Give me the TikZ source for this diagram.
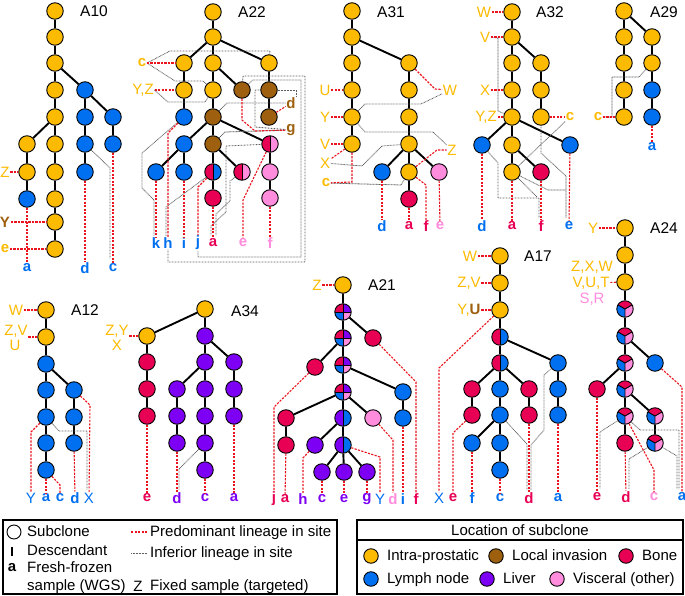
\documentclass[tikz,border=0pt]{standalone}
\usepackage{fontspec}
\setmainfont{Liberation Sans}
\definecolor{cIP}{RGB}{252,187,0}
\definecolor{cLI}{RGB}{158,96,14}
\definecolor{cBO}{RGB}{232,0,84}
\definecolor{cLY}{RGB}{0,112,240}
\definecolor{cLV}{RGB}{125,0,245}
\definecolor{cVI}{RGB}{255,140,220}
\definecolor{cRD}{RGB}{235,20,30}
\definecolor{cGR}{RGB}{95,95,95}
\tikzset{
  cn/.style={circle,draw=black,line width=0.9pt,minimum size=16.5pt,inner sep=0pt},
  ip/.style={cn,fill=cIP},
  li/.style={cn,fill=cLI},
  bo/.style={cn,fill=cBO},
  ly/.style={cn,fill=cLY},
  lv/.style={cn,fill=cLV},
  vi/.style={cn,fill=cVI},
  hf/.style 2 args={cn,path picture={
     \fill[#1] (path picture bounding box.north west) rectangle (path picture bounding box.south);
     \fill[#2] (path picture bounding box.north) rectangle (path picture bounding box.south east);
     \draw[line width=0.9pt] (path picture bounding box.north) -- (path picture bounding box.south);}},
  qd/.style={cn,path picture={
     \fill[cBO] (path picture bounding box.north west) rectangle (path picture bounding box.center);
     \fill[cLV] (path picture bounding box.north) rectangle (path picture bounding box.east);
     \fill[cLY] (path picture bounding box.west) rectangle (path picture bounding box.south);
     \fill[cVI] (path picture bounding box.center) rectangle (path picture bounding box.south east);
     \draw[line width=0.9pt] (path picture bounding box.north) -- (path picture bounding box.south)
        (path picture bounding box.west) -- (path picture bounding box.east);}},
  tr/.style={cn,path picture={
     \fill[cBO] (path picture bounding box.center) -- ++(-17.3pt,10pt) -- ++(0pt,20pt) -- ++(34.6pt,0pt) -- ++(0pt,-20pt) -- cycle;
     \fill[cLY] (path picture bounding box.center) -- ++(-17.3pt,10pt) -- ++(0pt,-30pt) -- ++(17.3pt,0pt) -- cycle;
     \fill[cVI] (path picture bounding box.center) -- ++(17.3pt,10pt) -- ++(0pt,-30pt) -- ++(-17.3pt,0pt) -- cycle;
     \draw[line width=0.9pt] (path picture bounding box.center) -- ++(-17.3pt,10pt)
        (path picture bounding box.center) -- ++(17.3pt,10pt)
        (path picture bounding box.center) -- ++(0pt,-20pt);}},
  ed/.style={line width=1.9pt},
  pr/.style={draw=cRD,line width=1.1pt,dash pattern=on 2.2pt off 1.3pt},
  inf/.style={draw=cGR,line width=0.8pt,dash pattern=on 0.8pt off 0.7pt},
  lb/.style={inner sep=0.6pt,font=\fontsize{15}{15}\selectfont},
  lbb/.style={inner sep=0.6pt,font=\fontsize{15}{15}\selectfont\bfseries},
  ttl/.style={inner sep=0pt,font=\fontsize{15.5}{16}\selectfont},
  lg/.style={inner sep=0pt,anchor=west,text height=10.5pt,text depth=2.5pt,font=\fontsize{15}{16}\selectfont},
}
\begin{document}
\begin{tikzpicture}[x=1pt,y=-1pt]
\useasboundingbox (0,0) rectangle (685,596);
\fill[white] (0,0) rectangle (685,596);

% ================= A10
\node[ip] (a10n1) at (55,11) {};
\node[ip] (a10n2) at (55,37) {};
\node[ip] (a10n3) at (55,63) {};
\node[ip] (a10n4) at (55,90) {};
\node[ip] (a10n5) at (55,117) {};
\node[ip] (a10l1) at (27,144) {};
\node[ip] (a10l2) at (27,172) {};
\node[ly] (a10l3) at (27,199) {};
\node[ip] (a10m1) at (55,144) {};
\node[ip] (a10m2) at (55,172) {};
\node[ip] (a10m3) at (55,199) {};
\node[ip] (a10m4) at (55,222) {};
\node[ip] (a10m5) at (55,249) {};
\node[ly] (a10b1) at (85,90) {};
\node[ly] (a10b2) at (85,117) {};
\node[ly] (a10b3) at (85,144) {};
\node[ly] (a10b4) at (85,172) {};
\node[ly] (a10c1) at (113,117) {};
\node[ly] (a10c2) at (113,144) {};
\draw[ed] (a10n1)--(a10n2)--(a10n3)--(a10n4)--(a10n5)--(a10m1)--(a10m2)--(a10m3)--(a10m4)--(a10m5);
\draw[ed] (a10n5)--(a10l1)--(a10l2)--(a10l3);
\draw[ed] (a10n3)--(a10b1)--(a10b2)--(a10b3)--(a10b4);
\draw[ed] (a10b1)--(a10c1)--(a10c2);
\node[ttl] (a10t) at (94,11) {A10};
\node[lb,text=cIP] (a10Z) at (5,172) {Z};
\node[lbb,text=cLI] (a10Y) at (5,222) {Y};
\node[lbb,text=cIP] (a10e) at (5,249) {e};
\node[lbb,text=cLY] (a10a) at (27,268) {a};
\node[lbb,text=cLY] (a10d) at (85,268) {d};
\node[lbb,text=cLY] (a10c) at (113,268) {c};
\draw[pr] (a10Z)--(a10l2);
\draw[pr] (a10Y)--(a10m4);
\draw[pr] (a10e)--(a10m5);
\draw[pr] (a10l3)--(a10a);
\draw[pr] (a10b4)--(a10d);
\draw[pr] (a10c2)--(a10c);
\draw[inf] (a10b3)--(110,168)--(110,259);

% ================= A22
\node[ip] (a22n1) at (213,12) {};
\node[ip] (a22n2) at (213,37) {};
\node[ip] (a22c3) at (184,63) {};
\node[ip] (a22m3) at (213,63) {};
\node[ip] (a22r3) at (269,63) {};
\node[ip] (a22yz) at (184,90) {};
\node[ip] (a22m4) at (213,90) {};
\node[li] (a22b4) at (242,90) {};
\node[li] (a22r4) at (269,90) {};
\node[ly] (a22l5) at (184,117) {};
\node[li] (a22m5) at (213,117) {};
\node[li] (a22r5) at (269,117) {};
\node[ly] (a22l6) at (184,144) {};
\node[li] (a22m6) at (213,144) {};
\node[hf={cBO}{cVI}] (a22r6) at (270,144) {};
\node[ly] (a22k7) at (156,172) {};
\node[ly] (a22l7) at (184,172) {};
\node[hf={cBO}{cLY}] (a22m7) at (213,172) {};
\node[hf={cBO}{cVI}] (a22e7) at (242,172) {};
\node[vi] (a22r7) at (270,172) {};
\node[bo] (a22m8) at (213,198) {};
\node[vi] (a22r8) at (270,198) {};
\draw[ed] (a22n1)--(a22n2)--(a22m3)--(a22m4)--(a22m5)--(a22m6)--(a22m7)--(a22m8);
\draw[ed] (a22n2)--(a22c3)--(a22yz)--(a22l5);
\draw[ed] (a22n2)--(a22r3)--(a22r4)--(a22r5);
\draw[ed] (a22m3)--(a22b4);
\draw[ed] (a22m5)--(a22l6)--(a22k7);
\draw[ed] (a22l6)--(a22l7);
\draw[ed] (a22m5)--(a22r6)--(a22r7)--(a22r8);
\draw[ed] (a22m6)--(a22e7);
\node[ttl] (a22t) at (252,12) {A22};
\node[lbb,text=cIP] (a22cL) at (142,63) {c};
\node[lb,text=cIP] (a22yzL) at (143,90) {Y,Z};
\node[lbb,text=cLI] (a22dL) at (291,103) {d};
\node[lbb,text=cLI] (a22gL) at (291,130) {g};
\node[lbb,text=cLY] (a22kL) at (156,243) {k};
\node[lbb,text=cLY] (a22hL) at (168,243) {h};
\node[lbb,text=cLY] (a22iL) at (184,243) {i};
\node[lbb,text=cLY] (a22jL) at (198,243) {j};
\node[lbb,text=cBO] (a22aL) at (213,243) {a};
\node[lbb,text=cVI] (a22eL) at (243,243) {e};
\node[lbb,text=cVI] (a22fL) at (270,243) {f};
\draw[inf] (a22cL.east)--(170,51)--(270,51)--(a22r3);
\draw[inf] (a22cL.east)--(175,81)--(203,81)--(a22m4);
\draw[inf] (a22yzL.east)--(168,102)--(205,102)--(a22m4);
\draw[inf] (a22b4)--(243,76)--(305,76)--(305,262)--(168,262)--(a22hL);
\draw[inf] (a22b4)--(253,80)--(301,80)--(301,257)--(198,257)--(a22jL);
\draw[inf] (a22m5)--(227,103)--(a22dL);
\draw[inf] (a22m6)--(225,132)--(a22gL);
\draw[inf] (a22r4.west)--(255,90)--(255,127)--(a22gL);
\draw[inf] (a22r4.east)--(296,90)--(296,96);
\draw[inf] (a22l5)--(142,153)--(142,188)--(154,200)--(154,236);
\draw[inf] (a22m7)--(166,207)--(166,236);
\draw[inf] (a22e7)--(230,181)--(230,201)--(216,214)--(216,236);
\draw[inf] (a22r6)--(226,146)--(226,212)--(211,226)--(211,236);
\draw[pr] (a22cL)--(a22c3);
\draw[pr] (a22yzL)--(a22yz);
\draw[pr] (a22r5)--(a22dL);
\draw[pr] (a22b4)--(242,120)--(255,131)--(a22gL);
\draw[pr] (a22k7)--(a22kL);
\draw[pr] (a22l5)--(168,133)--(a22hL);
\draw[pr] (a22l7)--(a22iL);
\draw[pr] (a22m7)--(198,187)--(a22jL);
\draw[pr] (a22m8)--(a22aL);
\draw[pr] (a22r6)--(243,200)--(a22eL);
\draw[pr] (a22r8)--(a22fL);

% ================= A31
\node[ip] (a31n1) at (352,11) {};
\node[ip] (a31n2) at (352,37) {};
\node[ip] (a31n3) at (352,63) {};
\node[ip] (a31u) at (352,90) {};
\node[ip] (a31y) at (352,117) {};
\node[ip] (a31v) at (352,144) {};
\node[ip] (a31r1) at (409,63) {};
\node[ip] (a31r2) at (409,90) {};
\node[ip] (a31r3) at (409,117) {};
\node[ip] (a31r4) at (409,144) {};
\node[ly] (a31d) at (382,172) {};
\node[ip] (a31o) at (409,172) {};
\node[vi] (a31e) at (439,172) {};
\node[bo] (a31a) at (409,199) {};
\draw[ed] (a31n1)--(a31n2)--(a31n3)--(a31u)--(a31y)--(a31v);
\draw[ed] (a31n2)--(a31r1)--(a31r2)--(a31r3)--(a31r4)--(a31o)--(a31a);
\draw[ed] (a31r4)--(a31d);
\draw[ed] (a31r4)--(a31e);
\node[ttl] (a31t) at (391,12) {A31};
\node[lb,text=cIP] (a31UL) at (325,90) {U};
\node[lb,text=cIP] (a31YL) at (325,117) {Y};
\node[lb,text=cIP] (a31VL) at (325,144) {V};
\node[lb,text=cIP] (a31XL) at (325,163) {X};
\node[lbb,text=cIP] (a31cL) at (326,183) {c};
\node[lb,text=cIP] (a31WL) at (450,90) {W};
\node[lb,text=cIP] (a31ZL) at (452,150) {Z};
\node[lbb,text=cLY] (a31dL) at (382,226) {d};
\node[lbb,text=cBO] (a31aL) at (409,226) {a};
\node[lbb,text=cBO] (a31fL) at (426,226) {f};
\node[lbb,text=cVI] (a31eL) at (440,226) {e};
\draw[inf] (a31XL)--(362,166)--(382,146)--(a31r4);
\draw[inf] (a31cL)--(401,185)--(a31o);
\draw[inf] (a31y)--(365,104)--(421,104)--(a31WL);
\draw[inf] (a31y)--(365,132)--(433,132)--(a31ZL);
\draw[pr] (a31UL)--(a31u);
\draw[pr] (a31YL)--(a31y);
\draw[pr] (a31VL)--(a31v);
\draw[pr] (a31v)--(a31XL);
\draw[pr] (a31v)--(352,182)--(a31cL);
\draw[pr] (a31r1)--(435,89)--(a31WL);
\draw[pr] (a31o)--(437,150)--(a31ZL);
\draw[pr] (a31d)--(a31dL);
\draw[pr] (a31a)--(a31aL);
\draw[pr] (a31o)--(426,185)--(a31fL);
\draw[pr] (a31e)--(a31eL);

% ================= A32
\node[ip] (a32w) at (512,12) {};
\node[ip] (a32v) at (512,37) {};
\node[ip] (a32n3) at (512,63) {};
\node[ip] (a32x) at (512,90) {};
\node[ip] (a32yz) at (512,117) {};
\node[ip] (a32r1) at (541,63) {};
\node[ip] (a32r2) at (541,90) {};
\node[ip] (a32c) at (541,117) {};
\node[ly] (a32d) at (482,145) {};
\node[ip] (a32m) at (512,145) {};
\node[ly] (a32e) at (570,145) {};
\node[ip] (a32a) at (512,172) {};
\node[bo] (a32f) at (541,172) {};
\draw[ed] (a32w)--(a32v)--(a32n3)--(a32x)--(a32yz)--(a32m)--(a32a);
\draw[ed] (a32v)--(a32r1)--(a32r2)--(a32c);
\draw[ed] (a32yz)--(a32d);
\draw[ed] (a32yz)--(a32e);
\draw[ed] (a32m)--(a32f);
\node[ttl] (a32t) at (550,12) {A32};
\node[lb,text=cIP] (a32WL) at (484,12) {W};
\node[lb,text=cIP] (a32VL) at (485,37) {V};
\node[lb,text=cIP] (a32XL) at (485,90) {X};
\node[lb,text=cIP] (a32YZL) at (486,117) {Y,Z};
\node[lbb,text=cIP] (a32cL) at (570,117) {c};
\node[lbb,text=cLY] (a32dL) at (482,226) {d};
\node[lbb,text=cBO] (a32aL) at (512,226) {a};
\node[lbb,text=cBO] (a32fL) at (541,226) {f};
\node[lbb,text=cLY] (a32eL) at (569,226) {e};
\draw[inf] (a32VL.east)--(498,38)--(498,111)--(a32yz);
\draw[inf] (a32cL)--(a32a);
\draw[inf] (a32c)--(541,153)--(566,176)--(566,218);
\draw[inf] (a32d)--(498,163)--(498,198)--(539,198)--(539,218);
\draw[inf] (a32a)--(537,197);
\draw[inf] (a32a)--(548,190)--(566,190);
\draw[pr] (a32WL)--(a32w);
\draw[pr] (a32VL)--(a32v);
\draw[pr] (a32XL)--(a32x);
\draw[pr] (a32YZL)--(a32yz);
\draw[pr] (a32c)--(a32cL);
\draw[pr] (a32d)--(a32dL);
\draw[pr] (a32a)--(a32aL);
\draw[pr] (a32f)--(a32fL);
\draw[pr] (a32e)--(a32eL);

% ================= A29
\node[ip] (a29n1) at (624,11) {};
\node[ip] (a29n2) at (624,37) {};
\node[ip] (a29n3) at (624,63) {};
\node[ip] (a29n4) at (624,90) {};
\node[ip] (a29n5) at (624,117) {};
\node[ip] (a29r1) at (652,37) {};
\node[ip] (a29r2) at (652,63) {};
\node[ly] (a29r3) at (652,90) {};
\node[ly] (a29r4) at (652,117) {};
\draw[ed] (a29n1)--(a29n2)--(a29n3)--(a29n4)--(a29n5);
\draw[ed] (a29n1)--(a29r1)--(a29r2)--(a29r3)--(a29r4);
\node[ttl] (a29t) at (664,12) {A29};
\node[lbb,text=cIP] (a29cL) at (598,117) {c};
\node[lbb,text=cLY] (a29aL) at (652,147) {a};
\draw[inf] (a29cL.east)--(612,117)--(612,77)--(639,77)--(a29r2);
\draw[pr] (a29cL)--(a29n5);
\draw[pr] (a29r4)--(a29aL);

% ================= A24
\node[ip] (a24n1) at (625,228) {};
\node[ip] (a24n2) at (625,255) {};
\node[ip] (a24n3) at (625,282) {};
\node[tr] (a24t1) at (625,309) {};
\node[tr] (a24t2) at (625,336) {};
\node[tr] (a24t3) at (625,363) {};
\node[ly] (a24b) at (655,363) {};
\node[bo] (a24e) at (597,389) {};
\node[tr] (a24t4) at (625,389) {};
\node[tr] (a24t5) at (625,416) {};
\node[tr] (a24t6) at (655,416) {};
\node[bo] (a24d) at (625,443) {};
\node[tr] (a24t7) at (655,443) {};
\draw[ed] (a24n1)--(a24n2)--(a24n3)--(a24t1)--(a24t2)--(a24t3)--(a24t4)--(a24t5)--(a24d);
\draw[ed] (a24t2)--(a24b);
\draw[ed] (a24t3)--(a24e);
\draw[ed] (a24t4)--(a24t6)--(a24t7);
\node[ttl] (a24t) at (664,228) {A24};
\node[lb,text=cIP] (a24YL) at (593,228) {Y};
\node[lb,text=cIP] (a24L1) at (592,267) {Z,X,W};
\node[lb,text=cIP] (a24L2) at (591,283) {V,U,T};
\node[lb,text=cVI] (a24L3) at (592,299) {S,R};
\node[lbb,text=cBO] (a24eL) at (597,497) {e};
\node[lbb,text=cBO] (a24dL) at (626,497) {d};
\node[lbb,text=cVI] (a24cL) at (654,497) {c};
\node[lbb,text=cLY] (a24aL) at (682,497) {a};
\draw[inf] (a24t5)--(600,432)--(600,489);
\draw[inf] (a24t5)--(640,430)--(679,430)--(679,489);
\draw[inf] (a24t7)--(629,459)--(629,489);
\draw[inf] (a24t7)--(677,456)--(677,489);
\draw[pr] (a24YL)--(a24n1);
\draw[pr] (a24L2)--(a24n3);
\draw[pr] (a24e)--(a24eL);
\draw[pr] (a24d)--(a24dL);
\draw[pr] (a24t5)--(654,470)--(a24cL);
\draw[pr] (a24b)--(682,387)--(a24aL);

% ================= A12
\node[ip] (a12w) at (46,310) {};
\node[ip] (a12zv) at (46,337) {};
\node[ly] (a12n3) at (46,364) {};
\node[ly] (a12n4) at (46,390) {};
\node[ly] (a12n5) at (46,417) {};
\node[ly] (a12n6) at (46,443) {};
\node[ly] (a12n7) at (46,470) {};
\node[ly] (a12r1) at (74,390) {};
\node[ly] (a12r2) at (74,417) {};
\node[ly] (a12r3) at (74,443) {};
\draw[ed] (a12w)--(a12zv)--(a12n3)--(a12n4)--(a12n5)--(a12n6)--(a12n7);
\draw[ed] (a12n3)--(a12r1)--(a12r2)--(a12r3);
\node[ttl] (a12t) at (85,310) {A12};
\node[lb,text=cIP] (a12WL) at (16,310) {W};
\node[lb,text=cIP] (a12ZVL) at (16,331) {Z,V};
\node[lb,text=cIP] (a12UL) at (15,345) {U};
\node[lb,text=cLY] (a12YL) at (31,498) {Y};
\node[lbb,text=cLY] (a12aL) at (46,498) {a};
\node[lbb,text=cLY] (a12cL) at (60,498) {c};
\node[lbb,text=cLY] (a12dL) at (75,498) {d};
\node[lb,text=cLY] (a12XL) at (89,498) {X};
\draw[inf] (a12n5)--(59,431)--(87,431)--(87,490);
\draw[pr] (a12WL)--(a12w);
\draw[pr] (a12ZVL.east |- a12zv)--(a12zv);
\draw[pr] (a12n5)--(31,432)--(a12YL);
\draw[pr] (a12n7)--(a12aL);
\draw[pr] (a12n7)--(60,485)--(a12cL);
\draw[pr] (a12r3)--(a12dL);
\draw[pr] (a12r1)--(90,405)--(a12XL);

% ================= A34
\node[ip] (a34n1) at (205,309) {};
\node[ip] (a34o) at (147,336) {};
\node[lv] (a34l1) at (205,336) {};
\node[bo] (a34b1) at (147,362) {};
\node[bo] (a34b2) at (147,389) {};
\node[bo] (a34b3) at (147,416) {};
\node[lv] (a34l2) at (205,362) {};
\node[lv] (a34r1) at (234,362) {};
\node[lv] (a34d1) at (177,389) {};
\node[lv] (a34l3) at (205,389) {};
\node[lv] (a34r2) at (234,389) {};
\node[lv] (a34d2) at (177,416) {};
\node[lv] (a34l4) at (205,416) {};
\node[lv] (a34r3) at (234,416) {};
\node[lv] (a34d3) at (177,443) {};
\node[lv] (a34l5) at (205,443) {};
\node[lv] (a34l6) at (205,470) {};
\draw[ed] (a34n1)--(a34o)--(a34b1)--(a34b2)--(a34b3);
\draw[ed] (a34n1)--(a34l1)--(a34l2)--(a34l3)--(a34l4)--(a34l5)--(a34l6);
\draw[ed] (a34l1)--(a34r1)--(a34r2)--(a34r3);
\draw[ed] (a34l2)--(a34d1)--(a34d2)--(a34d3);
\node[ttl] (a34t) at (245,311) {A34};
\node[lb,text=cIP] (a34ZYL) at (117,331) {Z,Y};
\node[lb,text=cIP] (a34XL) at (117,345) {X};
\node[lbb,text=cBO] (a34eL) at (147,498) {e};
\node[lbb,text=cLV] (a34dL) at (177,498) {d};
\node[lbb,text=cLV] (a34cL) at (205,498) {c};
\node[lbb,text=cLV] (a34aL) at (234,498) {a};
\draw[inf] (a34l5)--(179,469)--(179,490);
\draw[pr] (a34ZYL.east |- a34o)--(a34o);
\draw[pr] (a34b3)--(a34eL);
\draw[pr] (a34d3)--(a34dL);
\draw[pr] (a34l6)--(a34cL);
\draw[pr] (a34r3)--(a34aL);

% ================= A21
\node[ip] (a21z) at (343,285) {};
\node[qd] (a21q1) at (343,312) {};
\node[qd] (a21q2) at (343,338) {};
\node[bo] (a21b1) at (373,338) {};
\node[bo] (a21b2) at (315,367) {};
\node[qd] (a21q3) at (343,365) {};
\node[qd] (a21q4) at (343,392) {};
\node[ly] (a21l1) at (403,392) {};
\node[bo] (a21b3) at (286,418) {};
\node[hf={cLV}{cLY}] (a21h1) at (343,418) {};
\node[vi] (a21p) at (373,418) {};
\node[ly] (a21l2) at (403,418) {};
\node[bo] (a21b4) at (286,445) {};
\node[lv] (a21v1) at (315,445) {};
\node[hf={cLV}{cLY}] (a21h2) at (343,445) {};
\node[lv] (a21c) at (322,472) {};
\node[lv] (a21e) at (344,472) {};
\node[lv] (a21g) at (367,472) {};
\draw[ed] (a21z)--(a21q1)--(a21q2)--(a21q3)--(a21q4)--(a21h1)--(a21h2)--(a21e);
\draw[ed] (a21q1)--(a21b1);
\draw[ed] (a21q2)--(a21b2);
\draw[ed] (a21q3)--(a21l1)--(a21l2);
\draw[ed] (a21q4)--(a21b3)--(a21b4);
\draw[ed] (a21q4)--(a21p);
\draw[ed] (a21h1)--(a21v1);
\draw[ed] (a21h2)--(a21c);
\draw[ed] (a21h2)--(a21g);
\node[ttl] (a21t) at (382,285) {A21};
\node[lb,text=cIP] (a21ZL) at (317,285) {Z};
\node[lbb,text=cBO] (a21jL) at (274,499) {j};
\node[lbb,text=cBO] (a21aL) at (285,499) {a};
\node[lbb,text=cLV] (a21hL) at (303,499) {h};
\node[lbb,text=cLV] (a21cL) at (322,499) {c};
\node[lbb,text=cLV] (a21eL) at (344,499) {e};
\node[lbb,text=cLV] (a21gL) at (367,499) {g};
\node[lb,text=cLY] (a21YL) at (380,499) {Y};
\node[lbb,text=cVI] (a21dL) at (393,499) {d};
\node[lbb,text=cLY] (a21iL) at (403,499) {i};
\node[lbb,text=cBO] (a21fL) at (416,499) {f};
\draw[pr] (a21ZL)--(a21z);
\draw[pr] (a21b2)--(274,407)--(a21jL);
\draw[pr] (a21b4)--(a21aL);
\draw[pr] (a21v1)--(303,458)--(a21hL);
\draw[pr] (a21c)--(a21cL);
\draw[pr] (a21e)--(a21eL);
\draw[pr] (a21g)--(a21gL);
\draw[pr] (a21h2)--(380,457)--(a21YL);
\draw[pr] (a21p)--(393,440)--(a21dL);
\draw[pr] (a21l2)--(a21iL);
\draw[pr] (a21b1)--(416,382)--(a21fL);

% ================= A17
\node[ip] (a17w) at (500,256) {};
\node[ip] (a17zv) at (500,283) {};
\node[ip] (a17yu) at (500,310) {};
\node[hf={cBO}{cLY}] (a17h1) at (500,337) {};
\node[hf={cBO}{cLY}] (a17h2) at (500,363) {};
\node[bo] (a17e1) at (472,389) {};
\node[ly] (a17c1) at (500,389) {};
\node[bo] (a17d1) at (529,389) {};
\node[bo] (a17e2) at (472,415) {};
\node[ly] (a17c2) at (500,415) {};
\node[bo] (a17d2) at (529,415) {};
\node[ly] (a17f) at (472,443) {};
\node[ly] (a17c3) at (500,443) {};
\node[ly] (a17c4) at (500,470) {};
\node[ly] (a17a1) at (558,363) {};
\node[ly] (a17a2) at (558,389) {};
\node[ly] (a17a3) at (558,415) {};
\draw[ed] (a17w)--(a17zv)--(a17yu)--(a17h1)--(a17h2)--(a17c1)--(a17c2)--(a17c3)--(a17c4);
\draw[ed] (a17h1)--(a17a1)--(a17a2)--(a17a3);
\draw[ed] (a17h2)--(a17e1)--(a17e2);
\draw[ed] (a17h2)--(a17d1)--(a17d2);
\draw[ed] (a17c2)--(a17f);
\node[ttl] (a17t) at (538,256) {A17};
\node[lb,text=cIP] (a17WL) at (470,256) {W};
\node[lb,text=cIP] (a17ZVL) at (469,283) {Z,V};
\node[lb,text=cIP] (a17YUL) at (469,310) {Y,\textcolor{cLI}{\bfseries U}};
\node[lb,text=cLY] (a17XL) at (439,498) {X};
\node[lbb,text=cBO] (a17eL) at (453,498) {e};
\node[lbb,text=cLY] (a17fL) at (472,498) {f};
\node[lbb,text=cLY] (a17cL) at (500,498) {c};
\node[lbb,text=cBO] (a17dL) at (529,498) {d};
\node[lbb,text=cLY] (a17aL) at (558,498) {a};
\draw[inf] (a17c2)--(527,444)--(527,490);
\draw[inf] (a17a1)--(544,375)--(544,430)--(531,445)--(531,490);
\draw[pr] (a17WL)--(a17w);
\draw[pr] (a17ZVL)--(a17zv);
\draw[pr] (a17YUL)--(a17yu);
\draw[pr] (a17yu)--(439,368)--(a17XL);
\draw[pr] (a17e2)--(453,433)--(a17eL);
\draw[pr] (a17f)--(a17fL);
\draw[pr] (a17c4)--(a17cL);
\draw[pr] (a17d2)--(a17dL);
\draw[pr] (a17a3)--(a17aL);

% ================= Legend 1
\draw[line width=1.4pt] (3,520) rectangle (337,594);
\node[cn,minimum size=14pt] (lgsub) at (14,532) {};
\node[lg] (lgsubt) at (27,532) {Subclone};
\draw[line width=1.8pt] (12,547)--(12,556);
\node[lg] (lgdes) at (27,551) {Descendant};
\node[lbb] (lga) at (12,568) {a};
\node[lg] (lgff) at (27,568) {Fresh-frozen};
\node[lg] (lgwgs) at (27,586) {sample (WGS)};
\draw[pr] (131,532)--(147,532);
\node[lg] (lgpred) at (150,532) {Predominant lineage in site};
\draw[inf] (131,553)--(147,553);
\node[lg] (lginf) at (150,553) {Inferior lineage in site};
\node[lb] (lgZ) at (138,586) {Z};
\node[lg] (lgfix) at (150,586) {Fixed sample (targeted)};

% ================= Legend 2
\draw[line width=1.4pt] (357,520) rectangle (683,594);
\draw[line width=1.2pt] (357,540)--(683,540);
\node[lb] (lgloc) at (520,530) {Location of subclone};
\node[ip,minimum size=14.5pt] (lgip) at (371,556) {};
\node[lg] at (387,556) {Intra-prostatic};
\node[li,minimum size=14.5pt] (lgli) at (496,556) {};
\node[lg] at (512,556) {Local invasion};
\node[bo,minimum size=14.5pt] (lgbo) at (626,556) {};
\node[lg] at (642,556) {Bone};
\node[ly,minimum size=14.5pt] (lgly) at (371,579) {};
\node[lg] at (387,579) {Lymph node};
\node[lv,minimum size=14.5pt] (lglv) at (487,579) {};
\node[lg] at (503,579) {Liver};
\node[vi,minimum size=14.5pt] (lgvi) at (557,579) {};
\node[lg] at (573,579) {Visceral (other)};
\end{tikzpicture}
\end{document}
